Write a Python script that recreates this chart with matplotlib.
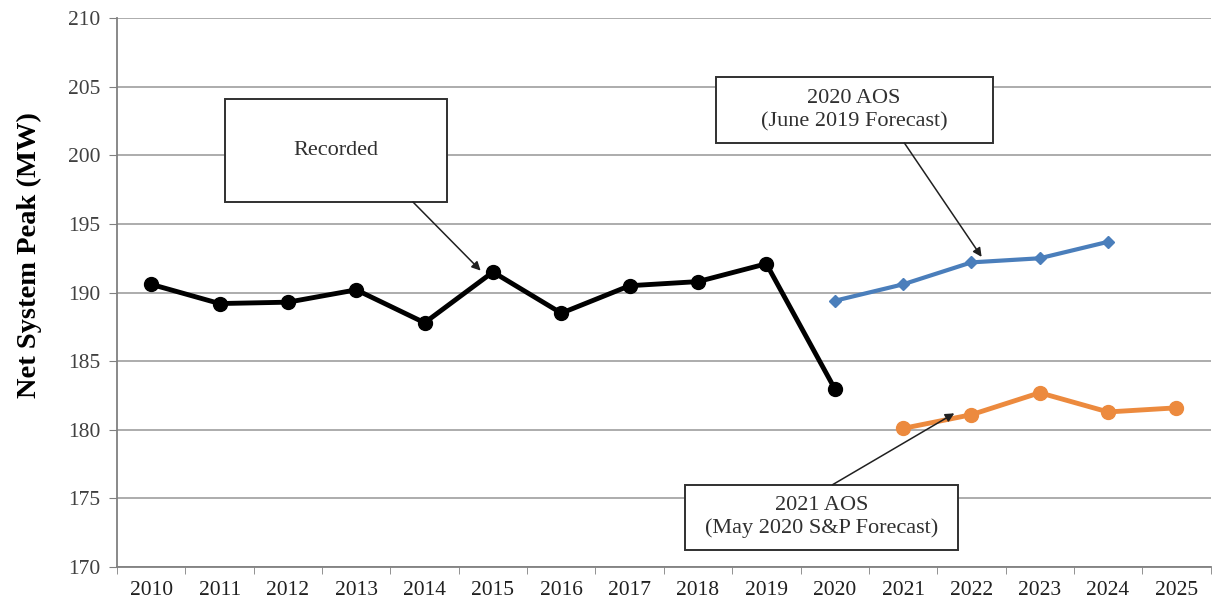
import numpy as np
import matplotlib.pyplot as plt
from matplotlib.patches import Rectangle

years = [str(y) for y in range(2010, 2026)]
recorded = [190.6, 189.2, 189.3, 190.2, 187.8, 191.5, 188.5, 190.5, 190.8, 192.1, 183.0]
aos_2020 = [189.4, 190.6, 192.2, 192.5, 193.7]      # 2020-2024
aos_2021 = [180.1, 181.1, 182.7, 181.3, 181.6]      # 2021-2025

plt.rcParams['font.family'] = ['Liberation Serif', 'DejaVu Serif']

fig = plt.figure(figsize=(12.13, 6.05), dpi=100)
ax = fig.add_axes([0.0965, 0.0628, 0.9015, 0.9072])

x = np.arange(len(years))
ax.plot(x[:len(recorded)], recorded, color='black', lw=3.5, marker='o', ms=10, zorder=3)
ax.plot(x[10:10 + len(aos_2020)], aos_2020, color='#4A7EBB', lw=3, marker='D', ms=6, zorder=3)
ax.plot(x[11:11 + len(aos_2021)], aos_2021, color='#EC8A3E', lw=3.5, marker='o', ms=10, zorder=3)

ax.set_xlim(-0.5, 15.5)
ax.set_ylim(170, 210)
ax.set_yticks(np.arange(170, 211, 5))
ax.set_xticks(x)
ax.set_xticklabels(years)
ax.set_xticks(np.arange(-0.5, 16, 1), minor=True)
ax.tick_params(axis='x', which='major', length=0, pad=10, labelsize=15.5, labelcolor='#202020')
ax.tick_params(axis='x', which='minor', length=5, color='#808080', direction='out')
ax.tick_params(axis='y', length=6, color='#808080', labelsize=15.5, labelcolor='#404040', pad=6)
ax.grid(axis='y', color='#A6A6A6', lw=1.3, zorder=0)
for s in ['top', 'right']:
    ax.spines[s].set_visible(False)
for s in ['left', 'bottom']:
    ax.spines[s].set_color('#808080')
    ax.spines[s].set_linewidth(1.3)
ax.set_ylabel('Net System Peak (MW)', fontsize=20.5, fontweight='bold')
ax.yaxis.set_label_coords(-0.069, 0.568)

def callout(x0, y0, x1, y1, text, start, tip):
    ax.add_patch(Rectangle((x0, y0), x1 - x0, y1 - y0, facecolor='white',
                           edgecolor='#303030', lw=1.4, zorder=4))
    ax.text((x0 + x1) / 2, (y0 + y1) / 2, text, ha='center', va='center',
            fontsize=16, color='#303030', zorder=5, linespacing=1.25)
    ax.annotate('', xy=tip, xytext=start, zorder=5,
                arrowprops=dict(arrowstyle='-|>', color='#202020', lw=1.1,
                                mutation_scale=13, shrinkA=0, shrinkB=0))

callout(1.08, 196.6, 4.33, 204.1, 'Recorded', (3.83, 196.6), (4.82, 191.6))
callout(8.26, 200.9, 12.31, 205.7, '2020 AOS\n(June 2019 Forecast)', (11.02, 200.9), (12.15, 192.6))
callout(7.81, 171.25, 11.81, 176.0, '2021 AOS\n(May 2020 S&P Forecast)', (9.97, 176.0), (11.75, 181.2))

fig.savefig('out.png', dpi=100)
